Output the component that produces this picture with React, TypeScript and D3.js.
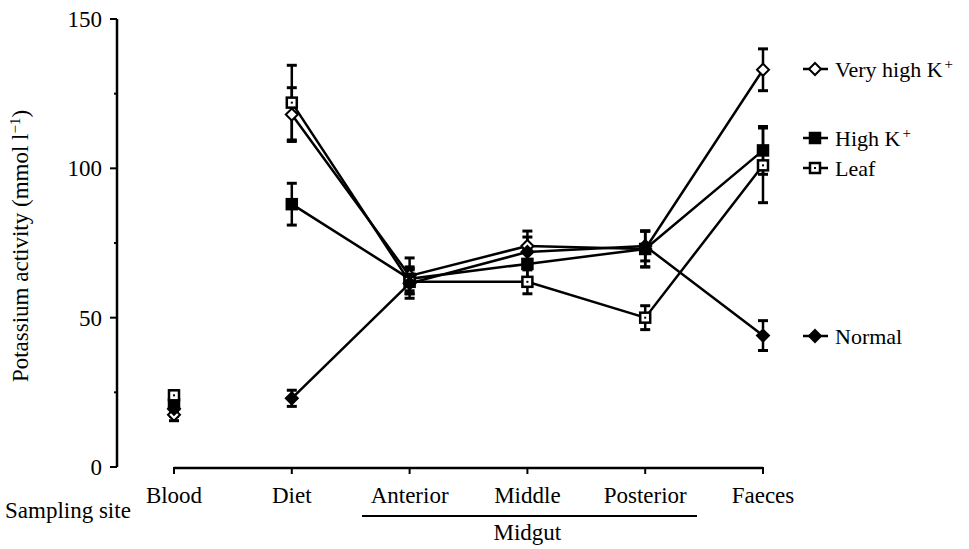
import React, { useEffect, useRef } from "react";
import * as d3 from "d3";

// sampling sites along the gut
const categories = ["Blood", "Diet", "Anterior", "Middle", "Posterior", "Faeces"];

// potassium activity (mmol l-1), mean and error per site
const veryHigh = [17.5, 118, 64, 74, 73, 133];
const veryHighErr = [2, 9, 6, 5, 6, 7];
const highK = [21, 88, 63, 68, 73, 106];
const highKErr = [2.5, 7, 4, 5, 6, 8];
const leaf = [24, 122, 62, 62, 50, 101];
const leafErr = [1.5, 12.5, 4, 4, 4, 12.5];
const normal = [19.5, 23, 61.5, 72, 74, 44];
const normalErr = [2.5, 2.7, 5, 5, 5, 5];

const yTicks = [0, 50, 100, 150];
const yMinorTicks = [25, 75, 125];

type Series = {
  name: string;
  values: number[];
  errs: number[];
  marker: "openDiamond" | "filledSquare" | "openSquare" | "filledDiamond";
  legendY: number;
};

const series: Series[] = [
  { name: "Very high K", values: veryHigh, errs: veryHighErr, marker: "openDiamond", legendY: 69 },
  { name: "High K", values: highK, errs: highKErr, marker: "filledSquare", legendY: 138 },
  { name: "Leaf", values: leaf, errs: leafErr, marker: "openSquare", legendY: 168 },
  { name: "Normal", values: normal, errs: normalErr, marker: "filledDiamond", legendY: 336 },
];

const FONT = "'Liberation Serif', 'DejaVu Serif', serif";

function drawMarker(g: any, kind: string, x: number, y: number) {
  if (kind === "openDiamond" || kind === "filledDiamond") {
    const r = 6;
    g.append("path")
      .attr("d", `M${x},${y - r}L${x + r},${y}L${x},${y + r}L${x - r},${y}Z`)
      .attr("fill", kind === "openDiamond" ? "white" : "black")
      .attr("stroke", "black")
      .attr("stroke-width", 2);
  } else {
    const s = 10;
    g.append("rect")
      .attr("x", x - s / 2)
      .attr("y", y - s / 2)
      .attr("width", s)
      .attr("height", s)
      .attr("fill", kind === "openSquare" ? "white" : "black")
      .attr("stroke", "black")
      .attr("stroke-width", 2.5);
    if (kind === "openSquare") {
      g.append("rect").attr("x", x - 1).attr("y", y - 1).attr("width", 2).attr("height", 2).attr("fill", "black");
    }
  }
}

const App = () => {
  const ref = useRef<SVGSVGElement>(null);

  useEffect(() => {
    const svg = d3.select(ref.current);
    svg.selectAll("*").remove();

    const x = d3.scalePoint<string>().domain(categories).range([174, 763]).padding(0);
    const y = d3.scaleLinear().domain([0, 150]).range([467, 19]);
    const axisX = 117;

    // y axis
    const gy = svg.append("g").attr("font-family", FONT);
    gy.append("line").attr("x1", axisX).attr("x2", axisX).attr("y1", y(150)).attr("y2", y(0))
      .attr("stroke", "black").attr("stroke-width", 2.5);
    yTicks.forEach((t) => {
      gy.append("line").attr("x1", axisX - 7).attr("x2", axisX).attr("y1", y(t)).attr("y2", y(t))
        .attr("stroke", "black").attr("stroke-width", 2);
      gy.append("text").attr("x", axisX - 15).attr("y", y(t)).attr("dy", "0.35em")
        .attr("text-anchor", "end").attr("font-size", 23).text(t);
    });
    yMinorTicks.forEach((t) => {
      gy.append("line").attr("x1", axisX - 3).attr("x2", axisX).attr("y1", y(t)).attr("y2", y(t))
        .attr("stroke", "black").attr("stroke-width", 2);
    });
    const yl = gy.append("text")
      .attr("transform", `translate(28, ${(y(0) + y(150)) / 2 + 3}) rotate(-90)`)
      .attr("text-anchor", "middle").attr("font-size", 23);
    yl.append("tspan").text("Potassium activity (mmol l");
    yl.append("tspan").attr("dy", -8).attr("font-size", 15).text("−1");
    yl.append("tspan").attr("dy", 8).text(")");

    // x axis
    const gx = svg.append("g").attr("font-family", FONT);
    gx.append("line").attr("x1", x("Blood")!).attr("x2", x("Faeces")!).attr("y1", 468).attr("y2", 468)
      .attr("stroke", "black").attr("stroke-width", 2.5);
    categories.forEach((c) => {
      gx.append("line").attr("x1", x(c)!).attr("x2", x(c)!).attr("y1", 467).attr("y2", 474)
        .attr("stroke", "black").attr("stroke-width", 2);
      gx.append("text").attr("x", x(c)!).attr("y", 503).attr("text-anchor", "middle")
        .attr("font-size", 23).text(c);
    });
    gx.append("text").attr("x", 5).attr("y", 518).attr("font-size", 23).text("Sampling site");
    gx.append("line").attr("x1", 362).attr("x2", 697).attr("y1", 516).attr("y2", 516)
      .attr("stroke", "black").attr("stroke-width", 2);
    gx.append("text").attr("x", x("Middle")!).attr("y", 540).attr("text-anchor", "middle")
      .attr("font-size", 23).text("Midgut");

    const line = d3.line<number>()
      .defined((_, i) => i > 0)
      .x((_, i) => x(categories[i])!)
      .y((d) => y(d));

    const gl = svg.append("g");
    series.forEach((s) => {
      gl.append("path").attr("d", line(s.values)).attr("fill", "none")
        .attr("stroke", "black").attr("stroke-width", 2.5);
    });

    const ge = svg.append("g").attr("stroke", "black");
    series.forEach((s) => {
      s.values.forEach((v, i) => {
        const e = s.errs[i];
        if (!e) return;
        const cx = x(categories[i])!;
        ge.append("line").attr("x1", cx).attr("x2", cx).attr("y1", y(v + e)).attr("y2", y(v - e)).attr("stroke-width", 2.5);
        [v + e, v - e].forEach((w) => {
          ge.append("line").attr("x1", cx - 5).attr("x2", cx + 5).attr("y1", y(w)).attr("y2", y(w)).attr("stroke-width", 3);
        });
      });
    });

    const gm = svg.append("g");
    series.forEach((s) => {
      s.values.forEach((v, i) => drawMarker(gm, s.marker, x(categories[i])!, y(v)));
    });

    // legend
    const lg = svg.append("g").attr("font-family", FONT);
    series.forEach((s) => {
      lg.append("line").attr("x1", 803).attr("x2", 828).attr("y1", s.legendY).attr("y2", s.legendY)
        .attr("stroke", "black").attr("stroke-width", 2.5);
      drawMarker(lg, s.marker, 815, s.legendY);
      const t = lg.append("text").attr("x", 835).attr("y", s.legendY).attr("dy", "0.35em").attr("font-size", 22);
      t.append("tspan").text(s.name);
      if (s.name.endsWith("K")) {
        t.append("tspan").attr("dx", 2).attr("dy", -8).attr("font-size", 15).text("+");
      }
    });
  }, []);

  return (
    <svg
      ref={ref}
      width={969}
      height={549}
      style={{ position: "absolute", left: 0, top: 0, background: "white" }}
    />
  );
};

export default App;
